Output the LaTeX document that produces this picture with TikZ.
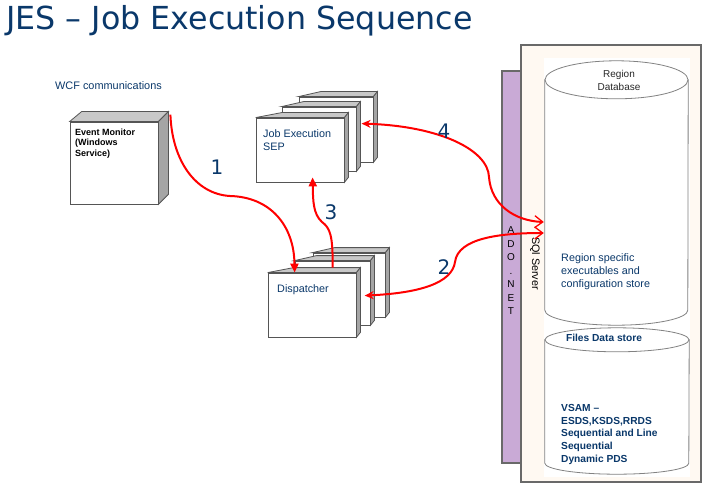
\documentclass[tikz,border=0pt]{standalone}
\usepackage{fontspec}
\setmainfont{Liberation Sans}
\newfontfamily\titlefont{DejaVu Sans}
\usepackage{tikz}
\usetikzlibrary{positioning}
\usetikzlibrary{arrows.meta}
\usepackage{xcolor}

\definecolor{jesblue}{RGB}{10,56,106}
\definecolor{jesred}{RGB}{255,0,0}
\definecolor{panelcream}{RGB}{255,249,242}
\definecolor{adopurple}{RGB}{201,170,214}
\definecolor{rimgray}{RGB}{105,105,105}
\definecolor{boxgray}{RGB}{85,85,85}
\definecolor{cylgray}{RGB}{130,130,130}
\definecolor{topgray}{RGB}{200,200,200}
\definecolor{sidegray}{RGB}{165,165,165}

% top and side faces of a box, #1 node, #2 slant of top face, #3 #4 depth
\newcommand{\boxfaces}[4]{%
\filldraw[boxface, fill=topgray] (#1.north west) -- ++(#2,-#4) -- ([shift={(#3,-#4)}]#1.north east) -- (#1.north east) -- cycle;
\filldraw[boxface, fill=sidegray] (#1.north east) -- ++(#3,-#4) -- ([shift={(#3,-#4)}]#1.south east) -- (#1.south east) -- cycle;
}

\begin{document}
\begin{tikzpicture}[x=1pt, y=-1pt,
boxface/.style={draw=boxgray, line width=0.8pt},
frontface/.style={boxface, fill=white, inner sep=0},
cyl/.style={draw=cylgray, line width=0.8pt, fill=white},
flow/.style={jesred, line width=2pt},
txt/.style={inner sep=0, text=jesblue, align=left},
num/.style={inner sep=0, text=jesblue, font=\titlefont\fontsize{20}{24}\selectfont}]

\useasboundingbox (0,0) rectangle (706,489);

\node[inner sep=0, anchor=base west, text=jesblue, font=\titlefont\fontsize{31.7}{36}\selectfont] (title) at (6,29.5) {JES – Job Execution Sequence};

\node[txt, anchor=base west, font=\fontsize{10.9}{13}\selectfont] (wcf) at (55,89.5) {WCF communications};

%server side
\begin{scope}{
\draw[rimgray, line width=2pt, fill=adopurple] (502,71) rectangle (521,463);
\draw[rimgray, line width=2pt, fill=panelcream] (521,45) rectangle (701,482);
\fill[white] (544,58) rectangle (690,477);

\node[inner sep=0, minimum width=143, minimum height=230] (regdb) at (616.5,195) {};
\filldraw[cyl] (regdb.north west) -- (regdb.south west) arc[start angle=180, end angle=0, x radius=71.5, y radius=15] -- (regdb.north east) -- cycle;
\draw[cyl] (regdb.north) ellipse [x radius=71.5, y radius=19];

\node[inner sep=0, minimum width=144, minimum height=123] (filestore) at (617,401.5) {};
\filldraw[cyl] (filestore.north west) -- (filestore.south west) arc[start angle=180, end angle=0, x radius=72, y radius=11] -- (filestore.north east) -- cycle;
\draw[cyl] (filestore.north) ellipse [x radius=72, y radius=12];

% nodes
\node[inner sep=0, anchor=north, align=center, text={rgb,255:red,40;green,40;blue,40}, font=\fontsize{10}{13}\selectfont] (regdbname) at (619,70) {Region\\Database};
\node[txt, anchor=north west, font=\fontsize{10.8}{13}\selectfont] (regdbtext) at (561,253) {Region specific\\executables and\\configuration store};
\node[txt, font=\bfseries\fontsize{10.2}{12.5}\selectfont] (filesname) at (604,338) {Files Data store};
\node[txt, anchor=north west, font=\bfseries\fontsize{10.2}{12.75}\selectfont] (filestext) at (561,404) {VSAM –\\ESDS,KSDS,RRDS\\Sequential and Line\\Sequential\\Dynamic PDS};
\node[inner sep=0, rotate=-90, font=\fontsize{10.8}{13}\selectfont] (sql) at (535,263.5) {SQl Server};
\foreach \ch [count=\i] in {A,D,O,.,N,E,T}
  \node[inner sep=0, anchor=base, font=\fontsize{10}{12}\selectfont] (ado\i) at (511,220+13.5*\i) {\ch};
} \end{scope}

%event monitor
\node[frontface, minimum width=88, minimum height=82] (evmon) at (114,163) {};
\boxfaces{evmon}{12}{10}{10}
\node[inner sep=0, anchor=north west, align=left, font=\bfseries\fontsize{9}{10.5}\selectfont] (evmontext) at (75,128.5) {Event Monitor\\(Windows\\Service)};

%job execution stack
\node[frontface, minimum width=74, minimum height=65] (sep3) at (336,129.5) {};
\boxfaces{sep3}{22}{4}{5}
\node[frontface, minimum width=74, minimum height=64] (sep2) at (319,139) {};
\boxfaces{sep2}{22}{4}{5}
\node[frontface, minimum width=88, minimum height=64] (sep1) at (300,150) {};
\boxfaces{sep1}{26}{4}{5}
\node[txt, anchor=north west, font=\fontsize{10.8}{13.8}\selectfont] (septext) at (263,129) {Job Execution\\SEP};

%dispatcher stack
\node[frontface, minimum width=72, minimum height=64] (disp3) at (349,285) {};
\boxfaces{disp3}{22}{4}{5}
\node[frontface, minimum width=75, minimum height=64] (disp2) at (332.5,293) {};
\boxfaces{disp2}{22}{4}{5}
\node[frontface, minimum width=88, minimum height=64] (disp1) at (312,305) {};
\boxfaces{disp1}{26}{4}{5}
\node[txt, anchor=north west, font=\fontsize{10.8}{13}\selectfont] (disptext) at (277,284) {Dispatcher};

%red arrows
\draw[flow, -{Triangle[length=9pt,width=8pt]}] ([shift={(12,-7)}]evmon.north east) .. controls (172,160) and (195,194) .. (230,196) .. controls (270,197) and (294,225) .. ([shift={(27,0)}]disp1.north west);
\draw[flow, -{Triangle[length=9pt,width=8pt]}] ([shift={(65,-5)}]disp1.north west) .. controls (333,235) and (330,228) .. (322,222) .. controls (313,214) and (313,200) .. ([shift={(57,-5)}]sep1.south west);
\draw[flow, {Stealth[length=9pt,width=8pt]}-{Straight Barb[length=8pt,width=12pt,line width=1.3pt]}] ([shift={(63,27)}]sep3.north west) .. controls (440,126) and (488,150) .. (489,177) .. controls (491,205) and (515,221) .. ([shift={(-1,27)}]regdb.west);
\draw[flow, {Stealth[length=9pt,width=8pt]}-{Straight Barb[length=8pt,width=12pt,line width=1.3pt]}] ([shift={(70,35)}]disp2.north west) .. controls (420,293) and (452,283) .. (455,262) .. controls (458,238) and (500,233) .. ([shift={(-1,38)}]regdb.west);

% numbers
\node[num] (n1) at (217,167) {1};
\node[num] (n2) at (444,267) {2};
\node[num] (n3) at (331,212) {3};
\node[num] (n4) at (444,131) {4};

\end{tikzpicture}
\end{document}
